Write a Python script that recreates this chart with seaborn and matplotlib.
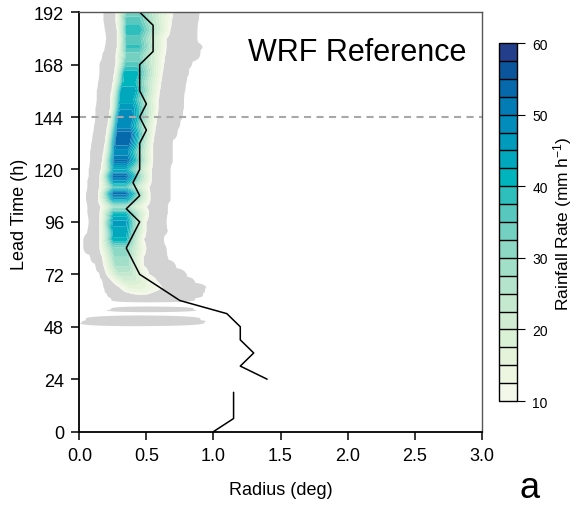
import numpy as np
import pandas as pd
import seaborn as sns
import matplotlib
matplotlib.use("Agg")
import matplotlib.pyplot as plt
from matplotlib.colors import ListedColormap, BoundaryNorm
from matplotlib.cm import ScalarMappable

# black line: radius (deg) vs lead time (h), two pieces with a gap 18-24 h
line_time = [0, 6, 12, 18,
             24, 30, 36, 42, 48, 54, 60, 66, 72, 78, 84, 90, 96, 102, 108,
             114, 120, 126, 132, 138, 144, 150, 156, 162, 168, 174, 180, 186, 192]
line_radius = [1.00, 1.15, 1.15, 1.15,
               1.40, 1.20, 1.30, 1.20, 1.20, 1.10, 0.75, 0.60, 0.45, 0.40, 0.35,
               0.40, 0.45, 0.35, 0.45, 0.40, 0.45, 0.45, 0.45, 0.50, 0.45, 0.50,
               0.45, 0.45, 0.45, 0.55, 0.55, 0.55, 0.45]
line_piece = [0] * 4 + [1] * 29

# rain band read row by row: edges (deg) of the gray (>1) and coloured (>10) areas,
# radius and value (mm/h) of the peak
rain_time = [48, 49.5, 50.5, 52, 53.5, 54.5, 55.5, 56.5, 57.5, 59,
             60, 62, 64, 66, 69, 72, 76, 80, 84, 88,
             92, 96, 100, 103, 106, 109, 112, 115, 117, 120,
             124, 128, 132, 136, 140, 144, 148, 152, 156, 160,
             164, 168, 172, 176, 180, 184, 188, 192]
rain_peak = [0, 6, 7, 5, 0, 0, 6, 5, 0, 0,
             6, 9, 13, 16, 20, 24, 28, 30, 32, 42,
             44, 46, 40, 28, 44, 54, 36, 48, 54, 42,
             53, 48, 54, 55, 48, 50, 47, 43, 45, 40,
             42, 36, 33, 38, 36, 40, 36, 34]
peak_radius = [0.40, 0.40, 0.45, 0.45, 0.45, 0.50, 0.50, 0.50, 0.50, 0.50,
               0.50, 0.45, 0.45, 0.42, 0.38, 0.34, 0.32, 0.31, 0.30, 0.30,
               0.30, 0.30, 0.30, 0.30, 0.30, 0.30, 0.30, 0.30, 0.30, 0.30,
               0.31, 0.31, 0.32, 0.33, 0.33, 0.34, 0.35, 0.35, 0.36, 0.37,
               0.38, 0.39, 0.40, 0.40, 0.40, 0.40, 0.40, 0.40]
gray_inner = [0, 0.00, 0.02, 0.05, 0, 0, 0.20, 0.24, 0, 0,
              0.24, 0.21, 0.19, 0.18, 0.17, 0.15, 0.12, 0.08, 0.03, 0.03,
              0.06, 0.07, 0.06, 0.06, 0.05, 0.05, 0.06, 0.06, 0.07, 0.07,
              0.08, 0.08, 0.09, 0.10, 0.11, 0.12, 0.12, 0.13, 0.13, 0.14,
              0.15, 0.15, 0.17, 0.19, 0.20, 0.19, 0.18, 0.18]
rain_inner = [0, 0, 0, 0, 0, 0, 0, 0, 0, 0,
              0, 0, 0.34, 0.30, 0.24, 0.20, 0.18, 0.17, 0.15, 0.15,
              0.15, 0.15, 0.15, 0.16, 0.14, 0.14, 0.15, 0.15, 0.15, 0.16,
              0.17, 0.18, 0.19, 0.20, 0.21, 0.22, 0.23, 0.23, 0.24, 0.25,
              0.26, 0.27, 0.27, 0.28, 0.28, 0.28, 0.27, 0.27]
rain_outer = [0, 0, 0, 0, 0, 0, 0, 0, 0, 0,
              0, 0, 0.56, 0.62, 0.58, 0.52, 0.48, 0.48, 0.50, 0.48,
              0.50, 0.50, 0.52, 0.50, 0.53, 0.53, 0.52, 0.54, 0.54, 0.54,
              0.55, 0.55, 0.55, 0.56, 0.57, 0.58, 0.59, 0.59, 0.60, 0.61,
              0.62, 0.63, 0.64, 0.65, 0.65, 0.68, 0.69, 0.70]
gray_outer = [0, 0.93, 0.95, 0.90, 0, 0, 0.88, 0.85, 0, 0,
              0.86, 0.92, 0.94, 0.95, 0.86, 0.80, 0.72, 0.66, 0.65, 0.63,
              0.66, 0.65, 0.66, 0.66, 0.68, 0.68, 0.68, 0.68, 0.68, 0.68,
              0.70, 0.70, 0.70, 0.73, 0.75, 0.77, 0.78, 0.78, 0.79, 0.80,
              0.82, 0.84, 0.90, 0.92, 0.88, 0.88, 0.89, 0.90]

rain_levels = [10, 12.5, 15, 17.5, 20, 22.5, 25, 27.5, 30, 32.5, 35,
               37.5, 40, 42.5, 45, 47.5, 50, 52.5, 55, 57.5, 60]
rain_colors = ['#f4f8ea', '#edf6e1', '#e4f3da', '#dbf1d6', '#d0edd3',
               '#c4e9cf', '#b4e4cb', '#a2dfc8', '#8cd8c4', '#74d0c1',
               '#58c7be', '#2ebfbc', '#00b4bd', '#00a7bd', '#009abd',
               '#018cbb', '#037bb5', '#0569ab', '#0a559c', '#233f8b']

# build the radius-time field from the row readings
radius_grid = np.linspace(0, 1.2, 241)
rows = []
for gi, ri, pr, pk, ro, go in zip(gray_inner, rain_inner, peak_radius,
                                  rain_peak, rain_outer, gray_outer):
    if pk <= 0:
        rows.append(np.zeros_like(radius_grid))
    elif pk < 10:
        rows.append(np.interp(radius_grid, [gi, pr, go], [1, pk, 1], left=0, right=0))
    else:
        rows.append(np.interp(radius_grid, [gi, ri, pr - 0.05, pr + 0.05, ro, go],
                              [1, 10, pk, pk, 10, 1], left=0, right=0))
rain = np.array(rows)

line_df = pd.DataFrame({"radius": line_radius, "time": line_time, "piece": line_piece})

sns.set_theme(style="ticks")
plt.rcParams["font.family"] = ["Liberation Sans", "DejaVu Sans"]
plt.rcParams["mathtext.default"] = "regular"
plt.rcParams["text.color"] = "black"
plt.rcParams["axes.labelcolor"] = "black"
plt.rcParams["xtick.color"] = "black"
plt.rcParams["ytick.color"] = "black"

fig = plt.figure(figsize=(5.79, 5.06), dpi=100)
ax = fig.add_axes([0.137, 0.145, 0.695, 0.829])

ax.contourf(radius_grid, rain_time, rain, levels=[1.0] + rain_levels,
            colors=["#d3d3d3"] + rain_colors, antialiased=True)
ax.axhline(144, color="#a8a8a8", lw=1.5, ls=(0, (3.4, 2.6)))
sns.lineplot(data=line_df, x="radius", y="time", units="piece", estimator=None,
             sort=False, color="black", lw=1.1, ax=ax)

ax.set_xlim(0, 3)
ax.set_ylim(0, 192)
ax.set_xticks([0, 0.5, 1.0, 1.5, 2.0, 2.5, 3.0])
ax.set_xticklabels(["0.0", "0.5", "1.0", "1.5", "2.0", "2.5", "3.0"])
ax.set_yticks([0, 24, 48, 72, 96, 120, 144, 168, 192])
ax.tick_params(direction="out", length=6, width=1.1, pad=5, labelsize=13)
ax.set_xlabel("Radius (deg)", fontsize=13)
ax.set_ylabel("Lead Time (h)", fontsize=13)
ax.xaxis.set_label_coords(0.5, -0.118)
ax.yaxis.set_label_coords(-0.128, 0.52)
for side in ["left", "bottom"]:
    ax.spines[side].set_linewidth(1.3)
    ax.spines[side].set_color("black")
for side in ["top", "right"]:
    ax.spines[side].set_linewidth(1.0)
    ax.spines[side].set_color("#555555")

ax.text(0.961, 0.886, "WRF Reference", transform=ax.transAxes, ha="right",
        va="baseline", fontsize=22)

cax = fig.add_axes([0.862, 0.2055, 0.031, 0.7075])
sm = ScalarMappable(norm=BoundaryNorm(rain_levels, len(rain_colors)),
                    cmap=ListedColormap(rain_colors))
cb = fig.colorbar(sm, cax=cax, drawedges=True, ticks=[10, 20, 30, 40, 50, 60])
cb.minorticks_off()
cb.dividers.set_color("black")
cb.dividers.set_linewidth(1.0)
cb.outline.set_linewidth(1.0)
cb.outline.set_edgecolor("black")
cax.tick_params(which="major", direction="out", length=6, width=0.8, pad=5, labelsize=10)
cax.tick_params(which="minor", length=0)
fig.text(563 / 579, 1 - 224 / 506, "Rainfall Rate (mm h$^{-1}$)", rotation=90,
         ha="center", va="center", fontsize=12.5)

fig.text(530 / 579, 1 - 498 / 506, "a", ha="center", va="baseline", fontsize=26)

fig.savefig("out.png", dpi=100)
